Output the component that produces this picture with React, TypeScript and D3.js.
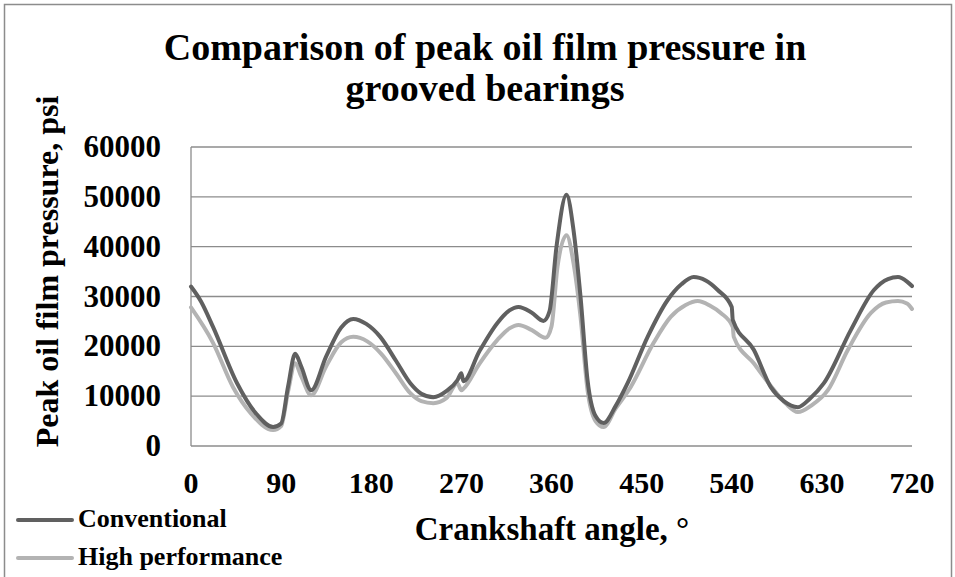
import React from "react";
import * as d3 from "d3";

// crankshaft angle (deg) / peak pressure (psi)
const convAngles = [0, 10, 22, 46, 65, 82, 90, 97, 104, 110, 120, 135, 150, 162, 175, 189, 205, 219, 230, 242, 255, 266, 270, 272, 288, 306, 318, 327, 340, 352, 358, 365, 375, 382, 389, 396, 404, 412, 424, 436, 456, 476, 490, 502, 514, 526, 540, 541, 562, 579, 592, 606, 618, 632, 659, 682, 696, 706, 715, 720];
const convValues = [32000, 29000, 23900, 12600, 6500, 3800, 4500, 12000, 18500, 16000, 11200, 18000, 23800, 25500, 24500, 21900, 17000, 12600, 10500, 9800, 11000, 13200, 14600, 13000, 19000, 24700, 27200, 27900, 26800, 25100, 27000, 40000, 50400, 43300, 29900, 13200, 6000, 4600, 8000, 12600, 21900, 29300, 32500, 33900, 33200, 31300, 27900, 25300, 19300, 11800, 9000, 7800, 9500, 12600, 23300, 31300, 33500, 33900, 33000, 32100];

const hpAngles = [0, 22, 42, 60, 82, 90, 97, 104, 110, 120, 135, 150, 162, 176, 190, 205, 219, 230, 242, 255, 266, 270, 272, 288, 306, 318, 327, 340, 354, 360, 366, 375, 382, 389, 396, 404, 412, 424, 439, 462, 479, 494, 506, 518, 529, 541, 542, 562, 580, 594, 606, 620, 636, 656, 679, 694, 706, 715, 720];
const hpValues = [27800, 20700, 11800, 6500, 3200, 4000, 11000, 16600, 14000, 10200, 16000, 20800, 21900, 21000, 18500, 14500, 10600, 9000, 8600, 9600, 12600, 11200, 11500, 16500, 21300, 23600, 24300, 23300, 21700, 24000, 36000, 42300, 36700, 25900, 11200, 5000, 3800, 7500, 11800, 20700, 25900, 28300, 29100, 28200, 26700, 23900, 21900, 16600, 11800, 8500, 6800, 8200, 11200, 19300, 26700, 28800, 29100, 28600, 27500];

const xTicks = [0, 90, 180, 270, 360, 450, 540, 630, 720];
const yTicks = [0, 10000, 20000, 30000, 40000, 50000, 60000];

const seriesNames = ["Conventional", "High performance"];
const seriesColors = ["#606060", "#b3b3b3"];

const W = 955;
const H = 577;
const FONT = "'Liberation Serif', 'Times New Roman', serif";

type Pt = { a: number; v: number };

export default function App() {
  const x = d3.scaleLinear().domain([0, 720]).range([191, 912]);
  const y = d3.scaleLinear().domain([0, 60000]).range([446, 147]);

  const line = d3
    .line<Pt>()
    .x((d) => x(d.a))
    .y((d) => y(d.v))
    .curve(d3.curveMonotoneX);

  const series: Pt[][] = [
    convAngles.map((a, i) => ({ a, v: convValues[i] })),
    hpAngles.map((a, i) => ({ a, v: hpValues[i] })),
  ];

  return (
    <svg
      width={W}
      height={H}
      style={{ position: "absolute", left: 0, top: 0, background: "#fff" }}
      fontFamily={FONT}
      fontWeight="bold"
    >
      <rect x={4.5} y={4.5} width={947} height={600} fill="#fff" stroke="#8c8c8c" strokeWidth={1.5} />

      {/* title */}
      <text x={485} y={60} textAnchor="middle" fontSize={38}>
        Comparison of peak oil film pressure in
      </text>
      <text x={485} y={101} textAnchor="middle" fontSize={38}>
        grooved bearings
      </text>

      {/* grid */}
      {yTicks.map((t) => (
        <line key={t} x1={x(0)} x2={x(720)} y1={y(t)} y2={y(t)} stroke="#8c8c8c" strokeWidth={1.3} />
      ))}
      <line x1={x(0)} x2={x(0)} y1={y(60000)} y2={y(0)} stroke="#8c8c8c" strokeWidth={1.3} />

      {/* y tick labels */}
      {yTicks.map((t) => (
        <text key={t} x={161} y={y(t) + 10} textAnchor="end" fontSize={31}>
          {t}
        </text>
      ))}

      {/* x tick labels */}
      {xTicks.map((t) => (
        <text key={t} x={x(t)} y={493} textAnchor="middle" fontSize={30}>
          {t}
        </text>
      ))}

      {/* axis titles */}
      <text
        transform={`translate(58,${(95 + 448) / 2}) rotate(-90)`}
        textAnchor="middle"
        fontSize={32}
      >
        Peak oil film pressure, psi
      </text>
      <text x={552} y={540} textAnchor="middle" fontSize={33}>
        Crankshaft angle, °
      </text>

      {/* lines */}
      {series.map((s, i) => (
        <path
          key={seriesNames[i]}
          d={line(s) || ""}
          fill="none"
          stroke={seriesColors[i]}
          strokeWidth={4}
          strokeLinejoin="round"
          strokeLinecap="round"
        />
      )).reverse()}

      {/* legend */}
      {seriesNames.map((n, i) => (
        <g key={n}>
          <line x1={18} x2={72} y1={520 + i * 38} y2={520 + i * 38} stroke={seriesColors[i]} strokeWidth={4} strokeLinecap="round" />
          <text x={78} y={527 + i * 38} fontSize={26}>
            {n}
          </text>
        </g>
      ))}
    </svg>
  );
}
